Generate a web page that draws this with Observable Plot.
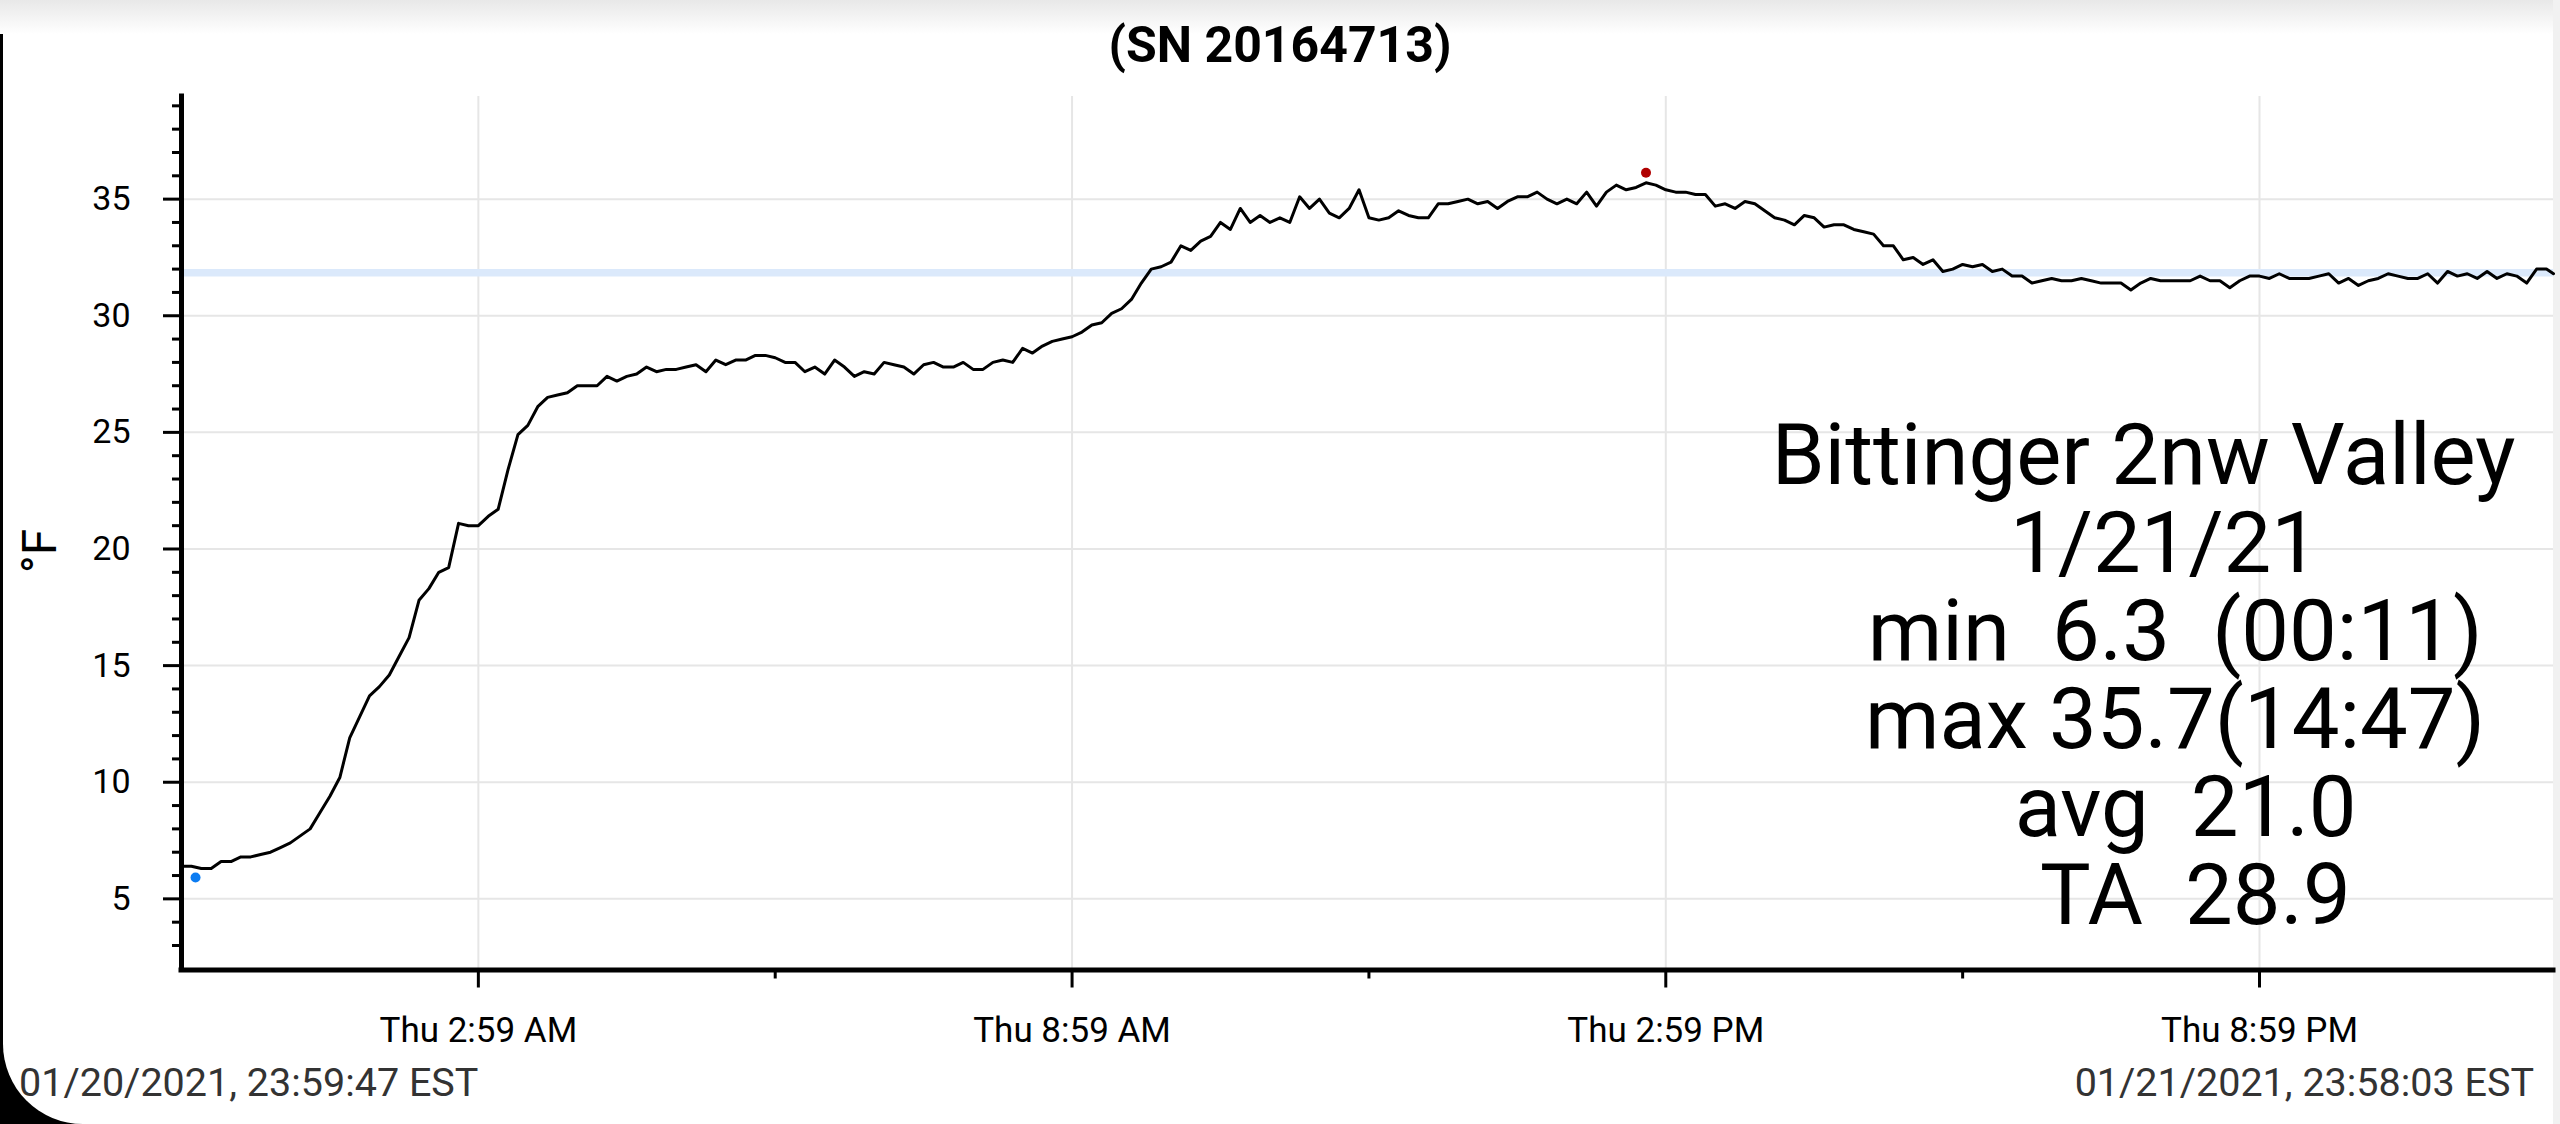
<!DOCTYPE html>
<html>
<head>
<meta charset="utf-8">
<script src="https://cdn.jsdelivr.net/npm/d3@7"></script>
<script src="https://cdn.jsdelivr.net/npm/@observablehq/plot@0.6"></script>
<style>
html, body { margin: 0; padding: 0; background: #fff; }
#page { position: relative; width: 2560px; height: 1124px; background: #000; overflow: hidden; font-family: Roboto, sans-serif; }
#sheet { position: absolute; left: 3px; top: 0; width: 2557px; height: 1124px; background: #fff; border-bottom-left-radius: 80px; }
#topbar { position: absolute; left: 0; top: 0; width: 2560px; height: 34px; background: linear-gradient(#e8e8e8, #ffffff); }
#rightstrip { position: absolute; left: 2553px; top: 0; width: 7px; height: 1124px; background: #f1f1f1; }
#chart { position: absolute; left: 0; top: 0; }
#title { position: absolute; left: 0; top: 20px; width: 2560px; text-align: center; font: 700 50px/50px Roboto, sans-serif; color: #000; }
.foot { position: absolute; top: 1063px; font: 400 39.5px/39.5px Roboto, sans-serif; color: #333; white-space: nowrap; }
#chart svg text { white-space: pre; }
</style>
</head>
<body>
<div id="page">
  <div id="sheet"></div>
  <div id="topbar"></div>
  <div id="rightstrip"></div>
  <div id="title"></div>
  <div id="chart"></div>
  <div class="foot" id="footLeft" style="left:19px"></div>
  <div class="foot" id="footRight" style="right:26px"></div>
</div>
<script>
// ---- data ----
const titleText = "(SN 20164713)";
const yLabel = "°F";
const footLeftText = "01/20/2021, 23:59:47 EST";
const footRightText = "01/21/2021, 23:58:03 EST";

const startISO = "2021-01-20T23:59:47";
const endISO = "2021-01-21T23:58:03";
const sampleMinutes = 6;

// temperature readings, one every 6 minutes from start
const temps = [
  6.4, 6.4, 6.3, 6.3, 6.6, 6.6, 6.8, 6.8, 6.9, 7.0,
  7.2, 7.4, 7.7, 8.0, 8.7, 9.4, 10.2, 11.9, 12.8, 13.7,
  14.1, 14.6, 15.4, 16.2, 17.8, 18.3, 19.0, 19.2, 21.1, 21.0,
  21.0, 21.4, 21.7, 23.4, 24.9, 25.3, 26.1, 26.5, 26.6, 26.7,
  27.0, 27.0, 27.0, 27.4, 27.2, 27.4, 27.5, 27.8, 27.6, 27.7,
  27.7, 27.8, 27.9, 27.6, 28.1, 27.9, 28.1, 28.1, 28.3, 28.3,
  28.2, 28.0, 28.0, 27.6, 27.8, 27.5, 28.1, 27.8, 27.4, 27.6,
  27.5, 28.0, 27.9, 27.8, 27.5, 27.9, 28.0, 27.8, 27.8, 28.0,
  27.7, 27.7, 28.0, 28.1, 28.0, 28.6, 28.4, 28.7, 28.9, 29.0,
  29.1, 29.3, 29.6, 29.7, 30.1, 30.3, 30.7, 31.4, 32.0, 32.1,
  32.3, 33.0, 32.8, 33.2, 33.4, 34.0, 33.7, 34.6, 34.0, 34.3,
  34.0, 34.2, 34.0, 35.1, 34.6, 35.0, 34.4, 34.2, 34.6, 35.4,
  34.2, 34.1, 34.2, 34.5, 34.3, 34.2, 34.2, 34.8, 34.8, 34.9,
  35.0, 34.8, 34.9, 34.6, 34.9, 35.1, 35.1, 35.3, 35.0, 34.8,
  35.0, 34.8, 35.3, 34.7, 35.3, 35.6, 35.4, 35.5, 35.7, 35.6,
  35.4, 35.3, 35.3, 35.2, 35.2, 34.7, 34.8, 34.6, 34.9, 34.8,
  34.5, 34.2, 34.1, 33.9, 34.3, 34.2, 33.8, 33.9, 33.9, 33.7,
  33.6, 33.5, 33.0, 33.0, 32.4, 32.5, 32.2, 32.4, 31.9, 32.0,
  32.2, 32.1, 32.2, 31.9, 32.0, 31.7, 31.7, 31.4, 31.5, 31.6,
  31.5, 31.5, 31.6, 31.5, 31.4, 31.4, 31.4, 31.1, 31.4, 31.6,
  31.5, 31.5, 31.5, 31.5, 31.7, 31.5, 31.5, 31.2, 31.5, 31.7,
  31.7, 31.6, 31.8, 31.6, 31.6, 31.6, 31.7, 31.8, 31.4, 31.6,
  31.3, 31.5, 31.6, 31.8, 31.7, 31.6, 31.6, 31.8, 31.4, 31.9,
  31.7, 31.8, 31.6, 31.9, 31.6, 31.8, 31.7, 31.4, 32.0, 32.0
];
const lastTemp = 31.8; // reading at the end time

const yDomain = [1.95, 39.4];
const yMajorTicks = [5, 10, 15, 20, 25, 30, 35];
const yMinorTicks = [3, 4, 6, 7, 8, 9, 11, 12, 13, 14, 16, 17, 18, 19, 21, 22, 23, 24, 26, 27, 28, 29, 31, 32, 33, 34, 36, 37, 38, 39];

const xMajorTickISO = ["2021-01-21T02:59:47", "2021-01-21T08:59:47", "2021-01-21T14:59:47", "2021-01-21T20:59:47"];
const xTickLabels = ["Thu 2:59 AM", "Thu 8:59 AM", "Thu 2:59 PM", "Thu 8:59 PM"];
const xMinorTickISO = ["2021-01-21T05:59:47", "2021-01-21T11:59:47", "2021-01-21T17:59:47"];

const freezeF = 32;
const minMark = { time: "2021-01-21T00:08:17", value: 6.3 };
const maxMark = { time: "2021-01-21T14:47:47", value: 35.7 };

const infoLines = [
  "Bittinger 2nw Valley",
  "  1/21/21",
  "   min  6.3  (00:11)",
  "   max 35.7(14:47)",
  "    avg  21.0",
  "     TA  28.9"
];

// ---- build ----
const T = s => new Date(s + "Z");
const start = T(startISO);
const end = T(endISO);
const series = temps.map((v, k) => ({ time: new Date(+start + k * sampleMinutes * 60000), temp: v }));
series.push({ time: end, temp: lastTemp });

const xMajor = xMajorTickISO.map(T);
const xMinor = xMinorTickISO.map(T);
const labelMap = new Map(xMajor.map((d, i) => [+d, xTickLabels[i]]));

const chart = Plot.plot({
  width: 2560,
  height: 1124,
  marginTop: 96,
  marginRight: 7,
  marginBottom: 154.5,
  marginLeft: 181,
  style: { background: "transparent", fontFamily: "Roboto, sans-serif", color: "#000", overflow: "visible", maxWidth: "none" },
  x: { type: "utc", domain: [start, end], axis: null },
  y: { domain: yDomain, axis: null },
  marks: [
    Plot.ruleY(yMajorTicks, { stroke: "#e6e6e6", strokeWidth: 2 }),
    Plot.ruleX(xMajor, { stroke: "#e6e6e6", strokeWidth: 2 }),
    Plot.ruleY([freezeF], { stroke: "#dbe9fb", strokeWidth: 7.5, dy: 3.75 }),
    Plot.line(series, { x: "time", y: "temp", stroke: "#000", strokeWidth: 3 }),
    Plot.dot([minMark], { x: d => T(d.time), y: "value", r: 5, fill: "#0b7cf2", stroke: null, dy: 9 }),
    Plot.dot([maxMark], { x: d => T(d.time), y: "value", r: 5, fill: "#b00000", stroke: null, dy: -10 }),
    Plot.axisY({ ticks: yMajorTicks, tickSize: 18, tickPadding: 33, fontSize: 34, strokeWidth: 3, label: null }),
    Plot.axisY({ ticks: yMinorTicks, tickSize: 9, tickFormat: () => "", strokeWidth: 3, label: null }),
    Plot.axisX({ ticks: xMajor, tickSize: 18, tickPadding: 29, fontSize: 35, strokeWidth: 3, tickFormat: d => labelMap.get(+d), label: null }),
    Plot.axisX({ ticks: xMinor, tickSize: 9, tickFormat: () => "", strokeWidth: 3, label: null }),
    Plot.ruleX([start], { stroke: "#000", strokeWidth: 5, strokeLinecap: "square" }),
    Plot.ruleY([yDomain[0]], { stroke: "#000", strokeWidth: 5, strokeLinecap: "square" }),
    Plot.text([yLabel], { frameAnchor: "left", dx: -141, dy: 40, rotate: -90, fontSize: 48, fill: "#000" }),
    Plot.text([infoLines.join("\n")], {
      frameAnchor: "top-left", dx: 1962, dy: 325,
      textAnchor: "middle", lineAnchor: "top",
      fontSize: 85, lineHeight: 88 / 85, fill: "#000"
    })
  ]
});

document.getElementById("chart").appendChild(chart);
document.getElementById("title").textContent = titleText;
document.getElementById("footLeft").textContent = footLeftText;
document.getElementById("footRight").textContent = footRightText;
</script>
</body>
</html>
